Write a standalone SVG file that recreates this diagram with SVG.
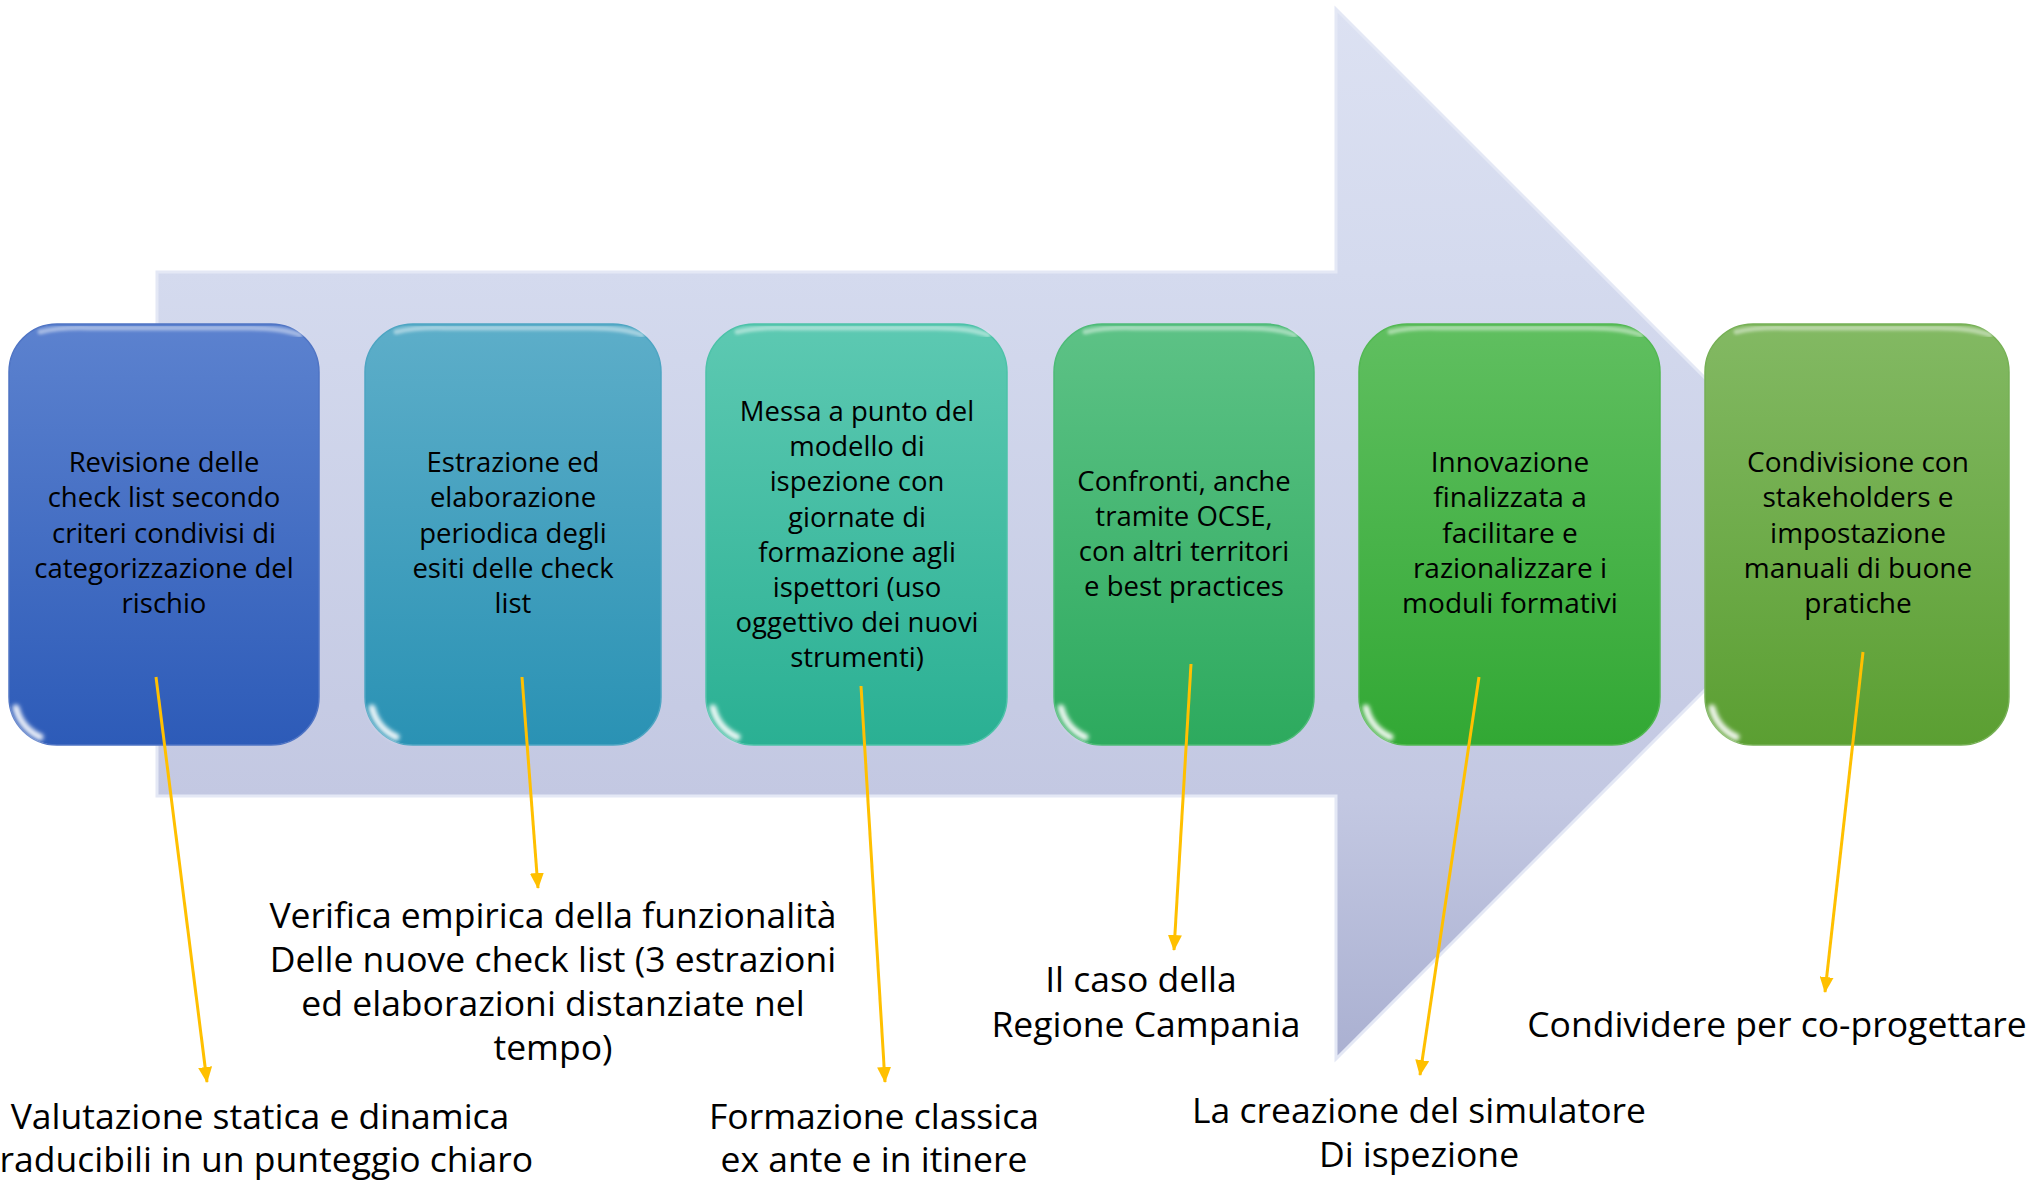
<svg xmlns="http://www.w3.org/2000/svg" width="2032" height="1180" viewBox="0 0 2032 1180">
<style>
.bt{font-family:"Open Sans","Liberation Sans",sans-serif;font-size:27.5px;fill:#000;text-anchor:middle}
.bt2{font-family:"Open Sans","Liberation Sans",sans-serif;font-size:28px;fill:#000;text-anchor:middle}
.lb{font-family:"Open Sans","Liberation Sans",sans-serif;font-size:35.5px;fill:#000;text-anchor:middle}
.hl{fill:none;stroke:#fff;stroke-opacity:.45;stroke-width:5;stroke-linecap:round;filter:url(#blur)}
.gl{fill:none;stroke:#fff;stroke-opacity:.9;stroke-width:7;stroke-linecap:round;filter:url(#blur2)}
.cn{stroke:#FFC000;stroke-width:3;fill:none;marker-end:url(#ah)}
</style>
<defs>
<filter id="blur" x="-20%" y="-20%" width="140%" height="140%"><feGaussianBlur stdDeviation="1.6"/></filter>
<filter id="blur2" x="-50%" y="-50%" width="200%" height="200%"><feGaussianBlur stdDeviation="2.2"/></filter>
<linearGradient id="ag" gradientUnits="userSpaceOnUse" x1="0" y1="9" x2="0" y2="1059">
<stop offset="0" stop-color="#DCE1F2"/><stop offset="0.25" stop-color="#D4DAEE"/><stop offset="0.75" stop-color="#C3C8E2"/><stop offset="1" stop-color="#AAB0D1"/>
</linearGradient>
<linearGradient id="g1" x1="0" y1="0" x2="0" y2="1"><stop offset="0" stop-color="#5C82CF"/><stop offset="1" stop-color="#2D5BB8"/></linearGradient>
<linearGradient id="g2" x1="0" y1="0" x2="0" y2="1"><stop offset="0" stop-color="#5DAEC9"/><stop offset="1" stop-color="#2A92B4"/></linearGradient>
<linearGradient id="g3" x1="0" y1="0" x2="0" y2="1"><stop offset="0" stop-color="#5DC9B2"/><stop offset="1" stop-color="#2AB093"/></linearGradient>
<linearGradient id="g4" x1="0" y1="0" x2="0" y2="1"><stop offset="0" stop-color="#5DC286"/><stop offset="1" stop-color="#2DAA5E"/></linearGradient>
<linearGradient id="g5" x1="0" y1="0" x2="0" y2="1"><stop offset="0" stop-color="#60BF60"/><stop offset="1" stop-color="#32A834"/></linearGradient>
<linearGradient id="g6" x1="0" y1="0" x2="0" y2="1"><stop offset="0" stop-color="#83B963"/><stop offset="1" stop-color="#5B9F32"/></linearGradient>
<marker id="ah" markerUnits="userSpaceOnUse" markerWidth="16" markerHeight="14" viewBox="0 0 16 14" refX="15" refY="7" orient="auto">
<path d="M0,0 L16,7 L0,14 Z" fill="#FFC000"/>
</marker>
</defs>
<rect width="2032" height="1180" fill="#fff"/>
<g id="big-arrow">
<polygon points="157,272 1336,272 1336,9 1861,534 1336,1059 1336,796 157,796" fill="url(#ag)" stroke="#E4E8F5" stroke-width="3"/>
</g>
<g id="box1">
<rect x="9" y="324" width="310" height="421" rx="48" fill="url(#g1)" stroke="#4F74C4" stroke-width="1.5"/>
<path class="hl" d="M40,332 Q60,327 90,328 L240,328 Q280,327 300,335"/>
<path class="gl" d="M16,708 A43,43 0 0 0 40,737"/>
<text class="bt"><tspan x="164" y="472">Revisione delle</tspan><tspan x="164" y="507">check list secondo</tspan><tspan x="164" y="543">criteri condivisi di</tspan><tspan x="164" y="578">categorizzazione del</tspan><tspan x="164" y="613">rischio</tspan></text>
</g>
<g id="box2">
<rect x="365" y="324" width="296" height="421" rx="48" fill="url(#g2)" stroke="#4DA5C2" stroke-width="1.5"/>
<path class="hl" d="M396,332 Q416,327 446,328 L582,328 Q622,327 642,335"/>
<path class="gl" d="M372,708 A43,43 0 0 0 396,737"/>
<text class="bt"><tspan x="513" y="472">Estrazione ed</tspan><tspan x="513" y="507">elaborazione</tspan><tspan x="513" y="543">periodica degli</tspan><tspan x="513" y="578">esiti delle check</tspan><tspan x="513" y="613">list</tspan></text>
</g>
<g id="box3">
<rect x="706" y="324" width="301" height="421" rx="48" fill="url(#g3)" stroke="#4CC2A8" stroke-width="1.5"/>
<path class="hl" d="M737,332 Q757,327 787,328 L928,328 Q968,327 988,335"/>
<path class="gl" d="M713,708 A43,43 0 0 0 737,737"/>
<text class="bt"><tspan x="857" y="421">Messa a punto del</tspan><tspan x="857" y="456">modello di</tspan><tspan x="857" y="491">ispezione con</tspan><tspan x="857" y="527">giornate di</tspan><tspan x="857" y="562">formazione agli</tspan><tspan x="857" y="597">ispettori (uso</tspan><tspan x="857" y="632">oggettivo dei nuovi</tspan><tspan x="857" y="667">strumenti)</tspan></text>
</g>
<g id="box4">
<rect x="1054" y="324" width="260" height="421" rx="48" fill="url(#g4)" stroke="#4DBB77" stroke-width="1.5"/>
<path class="hl" d="M1085,332 Q1105,327 1135,328 L1235,328 Q1275,327 1295,335"/>
<path class="gl" d="M1061,708 A43,43 0 0 0 1085,737"/>
<text class="bt"><tspan x="1184" y="491">Confronti, anche</tspan><tspan x="1184" y="526">tramite OCSE,</tspan><tspan x="1184" y="561">con altri territori</tspan><tspan x="1184" y="596">e best practices</tspan></text>
</g>
<g id="box5">
<rect x="1359" y="324" width="301" height="421" rx="48" fill="url(#g5)" stroke="#52B852" stroke-width="1.5"/>
<path class="hl" d="M1390,332 Q1410,327 1440,328 L1581,328 Q1621,327 1641,335"/>
<path class="gl" d="M1366,708 A43,43 0 0 0 1390,737"/>
<text class="bt2"><tspan x="1510" y="472">Innovazione</tspan><tspan x="1510" y="507">finalizzata a</tspan><tspan x="1510" y="543">facilitare e</tspan><tspan x="1510" y="578">razionalizzare i</tspan><tspan x="1510" y="613">moduli formativi</tspan></text>
</g>
<g id="box6">
<rect x="1705" y="324" width="304" height="421" rx="48" fill="url(#g6)" stroke="#76B055" stroke-width="1.5"/>
<path class="hl" d="M1736,332 Q1756,327 1786,328 L1930,328 Q1970,327 1990,335"/>
<path class="gl" d="M1712,708 A43,43 0 0 0 1736,737"/>
<text class="bt2"><tspan x="1858" y="472">Condivisione con</tspan><tspan x="1858" y="507">stakeholders e</tspan><tspan x="1858" y="543">impostazione</tspan><tspan x="1858" y="578">manuali di buone</tspan><tspan x="1858" y="613">pratiche</tspan></text>
</g>
<g id="connectors">
<line class="cn" x1="156" y1="677" x2="207" y2="1082"/>
<line class="cn" x1="522" y1="677" x2="538" y2="888"/>
<line class="cn" x1="861" y1="686" x2="885" y2="1082"/>
<line class="cn" x1="1191" y1="664" x2="1174" y2="950"/>
<line class="cn" x1="1479" y1="677" x2="1420" y2="1075"/>
<line class="cn" x1="1863" y1="652" x2="1825" y2="992"/>
</g>
<g id="label1"><text class="lb"><tspan x="260" y="1129">Valutazione statica e dinamica</tspan><tspan x="260" y="1172">traducibili in un punteggio chiaro</tspan></text></g>
<g id="label2"><text class="lb"><tspan x="553" y="928">Verifica empirica della funzionalità</tspan><tspan x="553" y="972">Delle nuove check list (3 estrazioni</tspan><tspan x="553" y="1016">ed elaborazioni distanziate nel</tspan><tspan x="553" y="1060">tempo)</tspan></text></g>
<g id="label3"><text class="lb"><tspan x="874" y="1129">Formazione classica</tspan><tspan x="874" y="1172">ex ante e in itinere</tspan></text></g>
<g id="label4"><text class="lb"><tspan x="1141" y="992">Il caso della</tspan><tspan x="1146" y="1037">Regione Campania</tspan></text></g>
<g id="label5"><text class="lb"><tspan x="1419" y="1123">La creazione del simulatore</tspan><tspan x="1419" y="1167">Di ispezione</tspan></text></g>
<g id="label6"><text class="lb"><tspan x="1777" y="1037">Condividere per co-progettare</tspan></text></g>
</svg>
